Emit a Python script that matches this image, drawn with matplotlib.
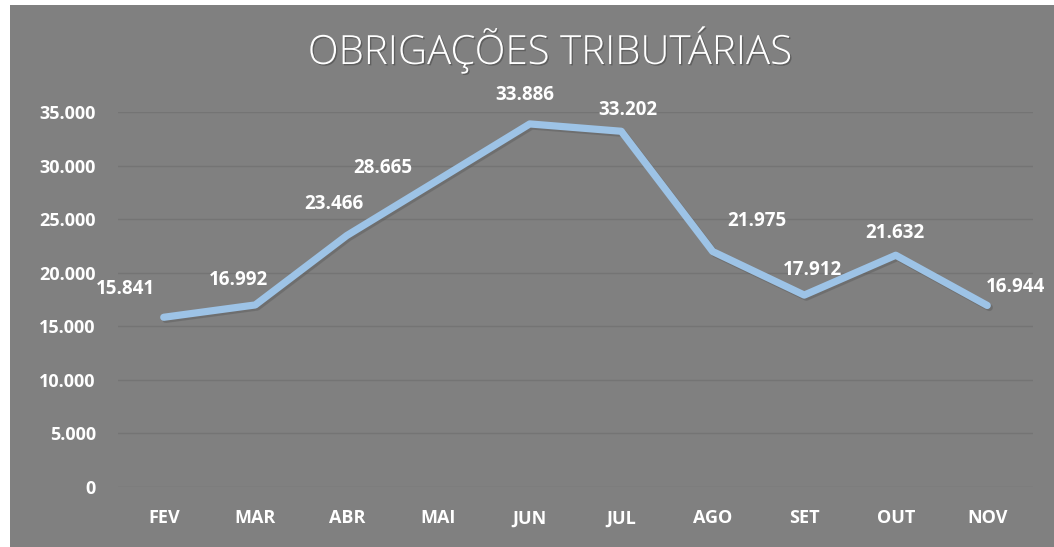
import matplotlib.pyplot as plt
import matplotlib.patheffects as pe
from matplotlib.patches import Rectangle

meses = ['FEV', 'MAR', 'ABR', 'MAI', 'JUN', 'JUL', 'AGO', 'SET', 'OUT', 'NOV']
valores = [15841, 16992, 23466, 28665, 33886, 33202, 21975, 17912, 21632, 16944]
rotulos = ['15.841', '16.992', '23.466', '28.665', '33.886', '33.202', '21.975', '17.912', '21.632', '16.944']
yticks = [0, 5000, 10000, 15000, 20000, 25000, 30000, 35000]
ytick_labels = ['0', '5.000', '10.000', '15.000', '20.000', '25.000', '30.000', '35.000']

# label offsets in pixels
offsets = [(-38, 28), (-17, 25), (-13, 32), (-55, 12), (-5, 29),
           (7, 21), (44, 31), (8, 25), (-1, 22), (28, 18)]

BG = '#808080'
W, H = 1054, 547
FONT = 'Open Sans'

fig = plt.figure(figsize=(W / 100, H / 100), dpi=100, facecolor='white')
fig.patches.append(Rectangle((10 / W, 0), 1, 1 - 5 / H, transform=fig.transFigure,
                             facecolor=BG, edgecolor='none', zorder=-10))

ax = fig.add_axes([118 / W, 60 / H, (1033 - 118) / W, (487 - 112) / H])
ax.set_facecolor('none')

x = list(range(len(meses)))
ax.plot(x, valores, color='#9DC3E6', lw=5.2, solid_capstyle='round', solid_joinstyle='round',
        clip_on=False, zorder=3,
        path_effects=[pe.SimpleLineShadow(offset=(1.5, -1.5), shadow_color='#555555', alpha=0.4),
                      pe.Normal()])

ax.set_xlim(-0.5, len(meses) - 0.5)
ax.set_ylim(0, 35000)
ax.set_yticks(yticks)
ax.set_yticklabels(ytick_labels)
ax.set_xticks(x)
ax.set_xticklabels(meses)
ax.grid(axis='y', color='#747474', lw=1)
ax.set_axisbelow(True)
for s in ax.spines.values():
    s.set_visible(False)
ax.tick_params(length=0, colors='white', labelsize=13)
ax.tick_params(axis='y', pad=16)
ax.tick_params(axis='x', pad=16)
for t in ax.get_xticklabels() + ax.get_yticklabels():
    t.set_fontweight('bold')
    t.set_fontfamily(FONT)

for xi, v, r, (dx, dy) in zip(x, valores, rotulos, offsets):
    ax.annotate(r, (xi, v), xytext=(dx, dy), textcoords='offset pixels',
                ha='center', va='center', color='white', fontsize=13.5,
                fontweight='bold', family=FONT, annotation_clip=False)

fig.text(550 / W, 1 - 50 / H, 'OBRIGAÇÕES TRIBUTÁRIAS', ha='center', va='center',
         color='white', fontsize=29, family=FONT, fontweight='light',
         path_effects=[pe.withSimplePatchShadow(offset=(1, -1), shadow_rgbFace='#404040', alpha=0.5)])

fig.savefig('out.png', dpi=100, facecolor='white')
